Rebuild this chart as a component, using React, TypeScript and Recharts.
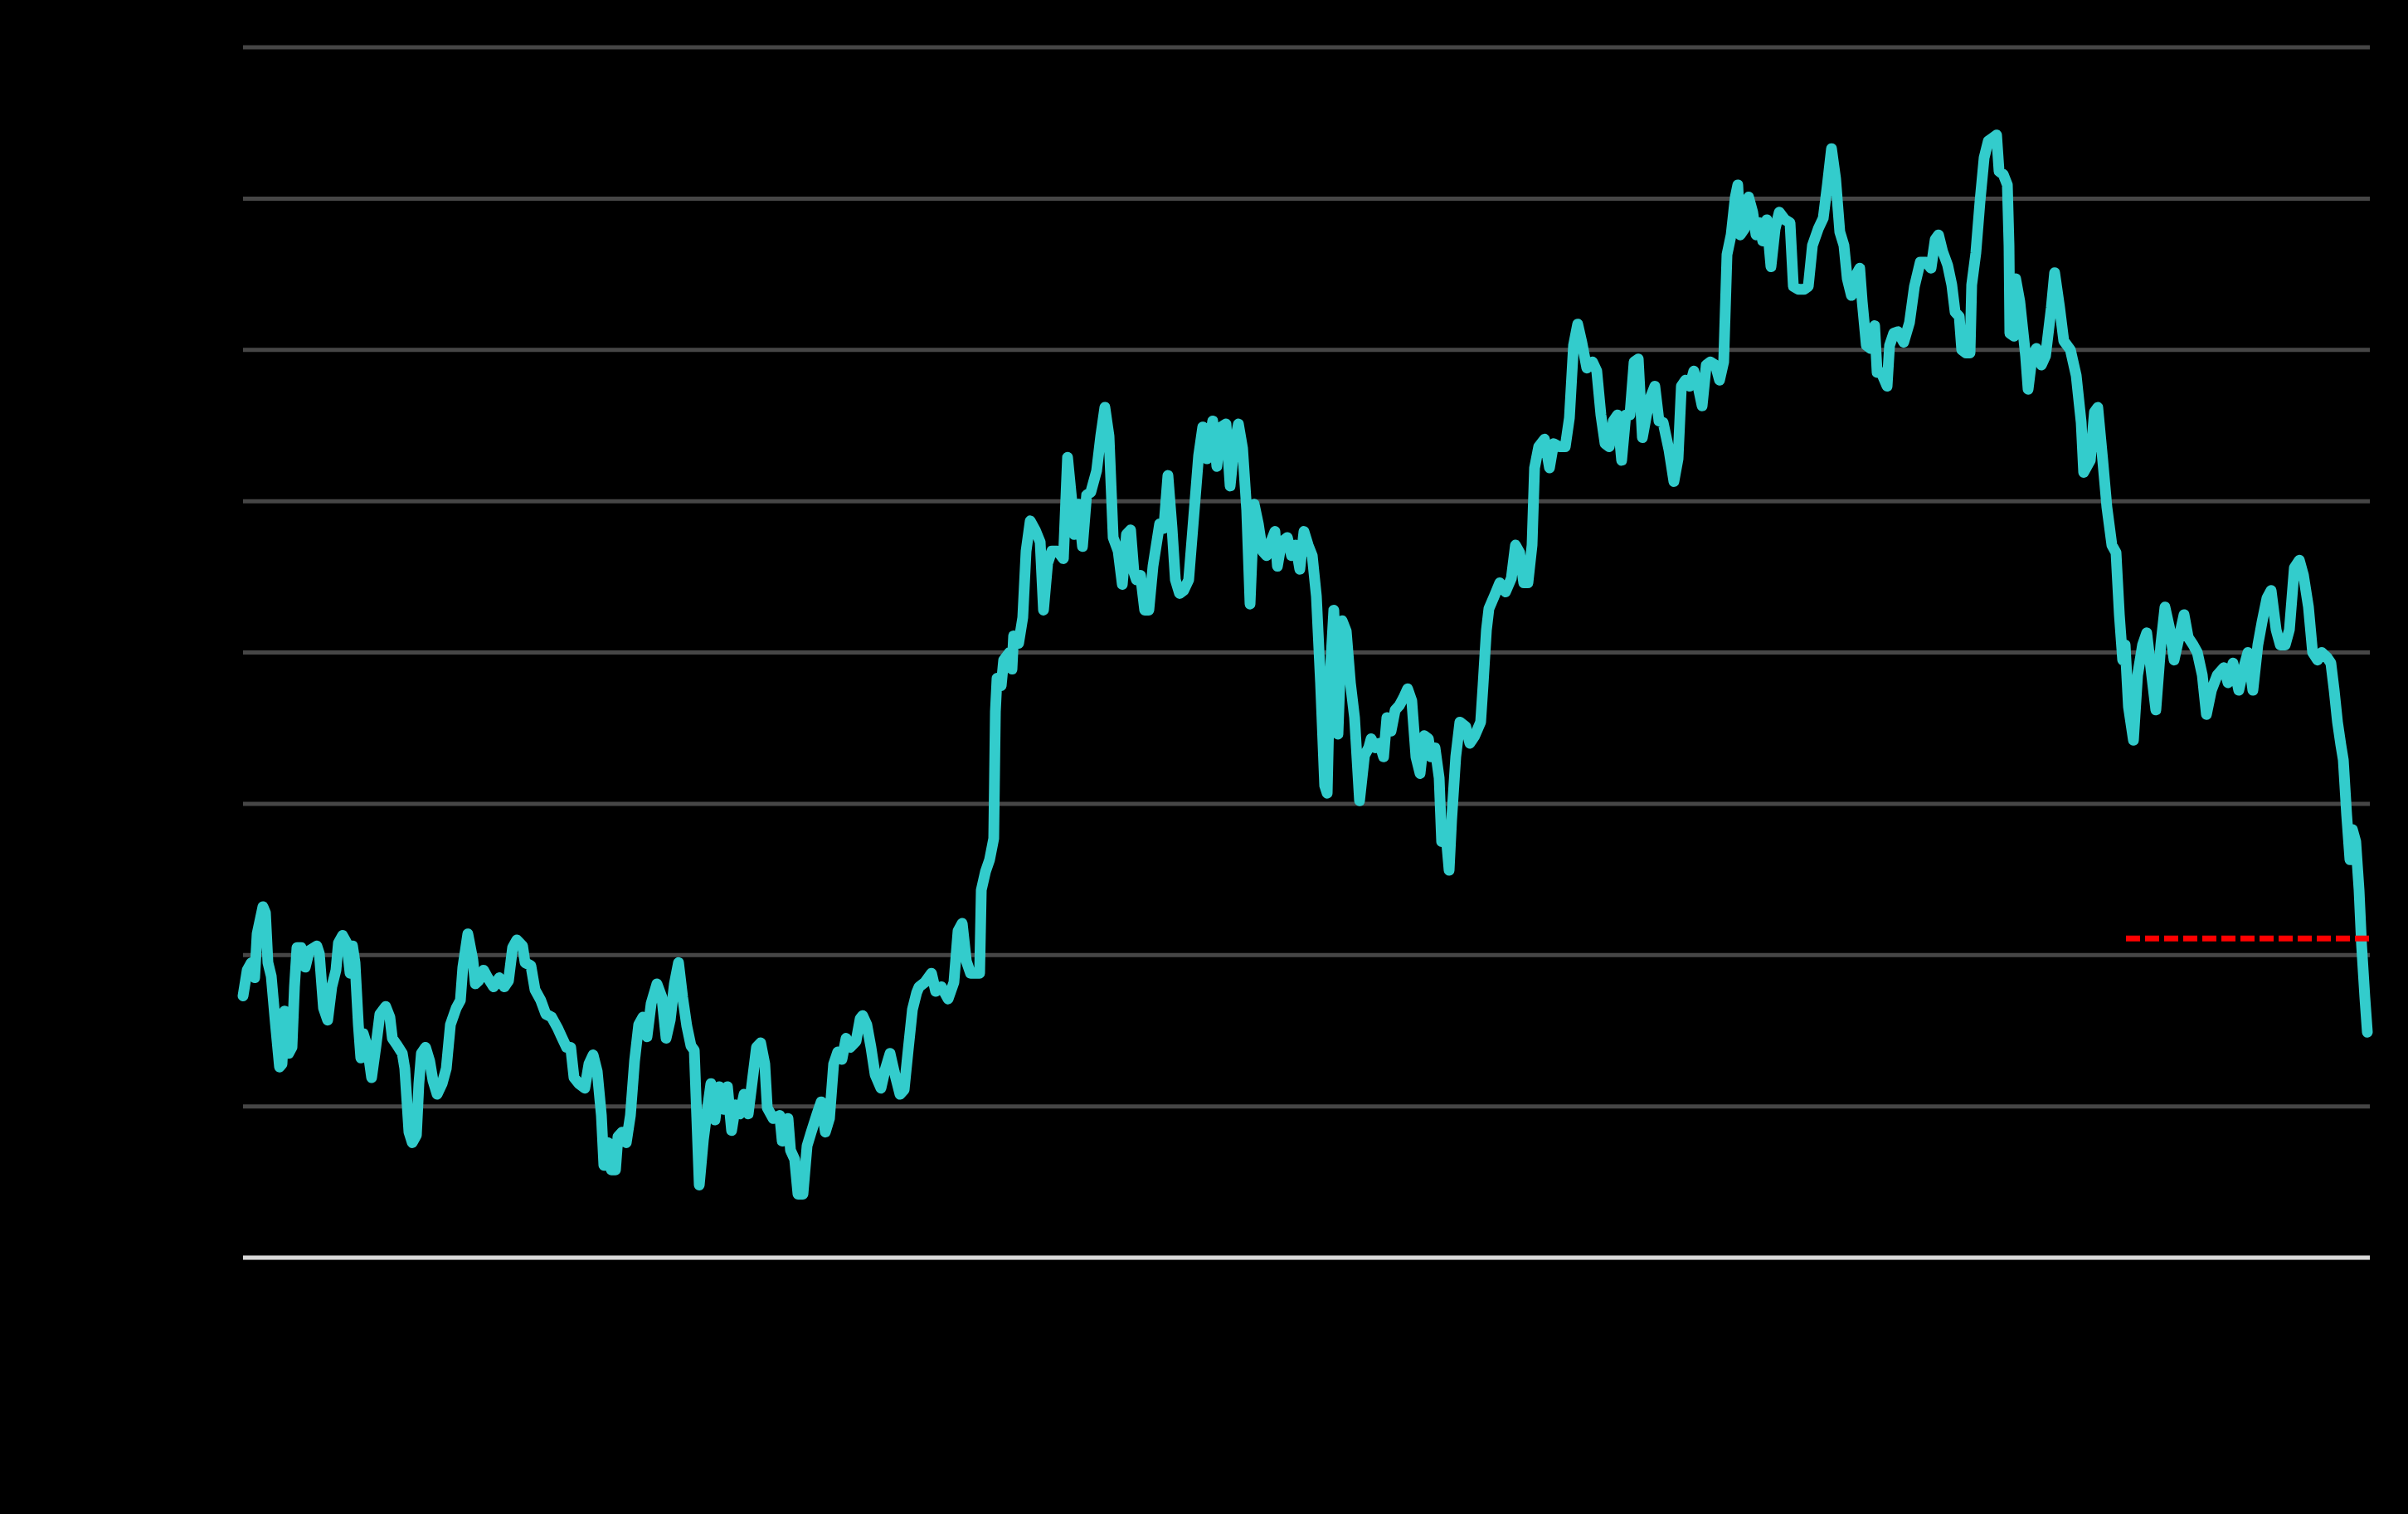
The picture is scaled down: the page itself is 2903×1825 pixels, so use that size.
import React from "react";
import { LineChart, Line, XAxis, YAxis, CartesianGrid, ReferenceLine } from "recharts";

// time index (trading-day position) and index level
const timeIndex: number[] = [
  0,5,10,14,17,24,27,30,34,39,44,47,50,54,55,59,62,65,70,75,80,89,92,97,102,107,112,115,120,125,129,132,135,139,142,145,150,155,160,165,172,177,180,185,192,195,200,204,209,212,215,220,225,229,234,240,245,250,257,262,265,271,277,280,284,290,295,302,309,315,320,325,330,337,340,347,352,359,365,372,379,384,390,395,399,405,412,417,422,427,432,435,440,444,449,452,457,462,467,472,477,482,487,492,499,505,510,515,520,525,530,535,540,544,547,550,555,559,564,569,574,579,584,589,594,599,604,609,614,619,624,629,632,639,647,650,657,660,665,669,675,680,685,692,697,702,707,712,717,722,727,732,739,744,747,752,757,762,769,774,780,785,792,797,802,807,812,815,822,830,835,842,850,857,862,867,872,877,884,888,890,895,900,905,907,909,914,917,924,927,929,935,940,944,949,955,961,965,970,975,982,989,994,999,1002,1007,1012,1017,1022,1029,1034,1039,1044,1049,1055,1060,1065,1070,1074,1077,1082,1087,1092,1097,1105,1110,1115,1120,1124,1129,1134,1140,1145,1152,1157,1162,1169,1174,1179,1185,1190,1195,1200,1205,1210,1214,1219,1224,1229,1234,1239,1244,1247,1252,1259,1264,1269,1274,1279,1284,1289,1294,1299,1304,1307,1310,1315,1320,1325,1330,1335,1340,1346,1352,1357,1360,1365,1370,1375,1379,1384,1389,1394,1399,1404,1409,1414,1419,1424,1429,1432,1437,1442,1445,1450,1454,1457,1462,1467,1474,1479,1485,1492,1495,1499,1502,1509,1515,1522,1529,1534,1539,1544,1549,1554,1557,1562,1569,1575,1580,1587,1594,1599,1604,1609,1614,1620,1627,1632,1637,1642,1647,1652,1657,1662,1667,1672,1677,1682,1687,1692,1697,1702,1707,1712,1719,1725,1730,1734,1739,1744,1749,1754,1759,1764,1769,1775,1780,1785,1789,1794,1799,1802,1805,1810,1815,1820,1824,1829,1832,1837,1842,1847,1852,1859,1865,1869,1875,1882,1887,1892,1899,1905,1910,1915,1920,1925,1930,1934,1939,1944,1949,1952,1957,1962,1967,1970,1975,1982,1985,1990,1995,2002,2009,2015,2022,2029,2035,2040,2044,2049,2055,2060,2064,2069,2072,2077,2082,2084,2089,2094,2099,2104,2109,2114,2117,2122,2127,2129,2130,2135,2137,2142,2149,2152,2157,2162,2168,2173,2180,2184,2190,2195,2203,2210,2216,2219,2227,2232,2236,2242,2247,2253,2258,2262,2266,2269,2273,2279,2284,2290,2295,2301,2306,2312,2317,2323,2328,2334,2340,2345,2351,2356,2362,2367,2373,2380,2388,2393,2399,2406,2412,2417,2423,2429,2434,2440,2445,2451,2456,2462,2467,2473,2479,2484,2490,2495,2501,2506,2512,2517,2521,2525,2529,2532,2536,2540,2543,2547,2551,2554,2558,2561
];

const levels: number[] = [
  17.3,19.0,19.5,18.5,21.4,23.2,22.8,19.5,18.6,15.5,12.6,12.8,16.3,15.4,13.5,13.9,17.9,20.5,20.5,19.2,20.3,20.6,20.1,16.5,15.7,17.9,19.0,20.8,21.3,20.8,18.8,20.6,19.5,15.4,13.2,14.8,13.9,11.9,13.9,16.1,16.6,15.9,14.5,14.1,13.5,12.5,8.3,7.6,8.1,11.5,13.5,13.9,13.0,11.7,10.8,11.5,12.5,15.4,16.5,17.0,19.2,21.4,19.7,18.1,18.3,19.0,18.5,17.9,18.5,17.9,18.3,20.5,21.0,20.6,19.5,19.3,17.7,17.0,16.1,15.9,15.2,14.6,13.9,13.9,11.9,11.5,11.2,12.8,13.4,12.3,9.4,6.1,7.6,5.8,5.8,8.0,8.3,7.6,9.4,13.0,15.4,15.9,14.6,16.8,18.1,17.2,14.5,15.7,18.1,19.5,17.2,15.3,14.0,13.7,9.3,4.8,7.8,9.5,11.5,9.1,11.3,9.8,11.3,8.4,10.1,9.5,10.8,9.5,11.7,13.9,14.2,12.8,9.9,9.2,9.4,7.7,9.2,7.1,6.5,4.2,4.2,7.4,8.3,9.5,10.3,8.3,9.2,12.8,13.6,13.1,14.5,13.9,14.3,15.8,16.0,15.4,13.9,12.1,11.2,12.4,13.5,12.3,10.8,11.1,13.8,16.4,17.5,17.9,18.2,18.8,17.6,17.9,17.1,18.2,21.6,22.1,19.6,18.8,18.8,18.8,24.3,25.5,26.3,27.7,36.1,38.3,37.8,39.5,40.0,38.9,41.1,40.6,42.3,46.7,48.7,48.1,47.3,42.8,45.9,46.7,46.7,46.2,52.9,50.1,47.8,49.8,47.0,50.4,50.6,52.0,54.3,56.2,54.3,47.6,46.7,44.5,47.8,48.1,45.3,44.8,45.1,42.8,42.8,45.7,48.5,48.2,51.7,48.2,44.8,43.9,44.1,44.8,48.2,53.0,54.9,52.8,55.3,52.3,54.9,55.1,51.0,53.7,55.1,53.5,49.4,43.2,49.8,48.5,46.7,46.4,47.3,48.0,45.7,47.3,47.6,46.4,47.1,45.5,48.0,47.1,46.4,43.7,38.0,31.2,30.7,38.0,42.8,34.6,42.1,41.4,38.0,35.7,30.2,33.2,33.7,34.3,33.7,34.0,33.1,35.7,34.8,36.2,36.5,37.0,37.6,36.8,33.1,32.0,34.5,34.3,33.1,33.7,31.7,27.5,28.1,25.6,28.9,33.1,35.4,35.1,34.0,34.5,35.4,37.9,41.5,42.9,43.8,44.6,44.0,44.9,47.1,46.6,44.6,44.6,47.1,52.2,53.6,54.1,52.2,53.8,53.6,53.6,55.5,60.3,61.7,60.5,58.8,59.2,58.6,55.7,53.8,53.6,55.3,55.7,52.7,55.7,55.7,59.2,59.4,54.2,55.7,56.9,57.6,55.3,55.2,53.4,51.3,52.8,57.6,58.0,57.6,58.6,57.6,56.3,59.0,59.2,59.0,58.0,59.2,66.3,67.6,70.1,70.9,67.6,68.0,70.1,69.1,67.6,68.4,67.2,68.6,65.5,68.0,69.1,68.6,68.4,64.2,64.0,64.0,64.2,66.9,68.0,68.7,70.9,73.3,71.3,67.8,66.9,64.7,63.6,64.9,65.4,63.2,60.3,60.1,61.6,58.5,58.5,57.6,60.3,61.1,61.2,60.5,61.8,64.2,65.8,65.8,65.4,67.3,67.6,66.5,65.6,64.3,62.5,62.2,60.0,59.8,59.8,64.3,66.4,69.8,72.7,73.8,74.0,74.2,71.8,71.6,70.9,66.9,61.1,60.9,64.7,63.2,59.6,57.4,59.6,60.1,59.0,59.6,62.8,65.1,62.8,60.6,60.0,58.3,55.2,51.9,52.7,55.9,56.2,52.7,49.6,47.1,46.6,42.5,39.5,40.5,36.4,34.2,38.5,40.5,41.3,38.5,36.2,40.5,43.0,41.5,39.5,41.0,42.5,41.0,40.5,40.0,38.5,35.9,37.5,38.5,39.0,38.0,39.3,37.5,39.0,40.0,37.5,40.5,42.0,43.6,44.1,41.5,40.5,40.5,41.5,45.6,46.1,45.1,43.0,40.0,39.5,40.0,39.7,39.3,37.5,35.4,33.9,32.9,29.3,26.3,28.3,27.5,24.3,20.7,17.2,14.9
];

const yTicks: number[] = [0, 10, 20, 30, 40, 50, 60, 70, 80];

const thresholdStart = 2270;
const thresholdEnd = 2564;
const thresholdLevel = 21.1;

const seriesData = timeIndex.map((t, i) => ({ t, v: levels[i] }));
const thresholdData = [
  { t: thresholdStart, thr: thresholdLevel },
  { t: thresholdEnd, thr: thresholdLevel },
];

export default function App() {
  return (
    <div
      style={{
        position: "absolute",
        left: 0,
        top: 0,
        width: 2903,
        height: 1825,
        background: "#000000",
        overflow: "hidden",
      }}
    >
      <LineChart
        width={2903}
        height={1825}
        data={seriesData}
        margin={{ top: 57, right: 46, bottom: 309, left: 293 }}
        style={{ background: "#000000" }}
      >
        <CartesianGrid horizontal={true} vertical={false} stroke="#464646" strokeWidth={5} />
        <XAxis type="number" dataKey="t" domain={[0, 2564]} hide />
        <YAxis type="number" domain={[0, 80]} ticks={yTicks} hide />
        <ReferenceLine y={0} stroke="#d9d9d9" strokeWidth={5} />
        <Line
          type="linear"
          dataKey="v"
          stroke="#33cccc"
          strokeWidth={13}
          strokeLinejoin="round"
          strokeLinecap="round"
          dot={false}
          isAnimationActive={false}
        />
        <Line
          data={thresholdData}
          type="linear"
          dataKey="thr"
          stroke="#ff0000"
          strokeWidth={7}
          strokeDasharray="17 6"
          dot={false}
          isAnimationActive={false}
        />
      </LineChart>
    </div>
  );
}
